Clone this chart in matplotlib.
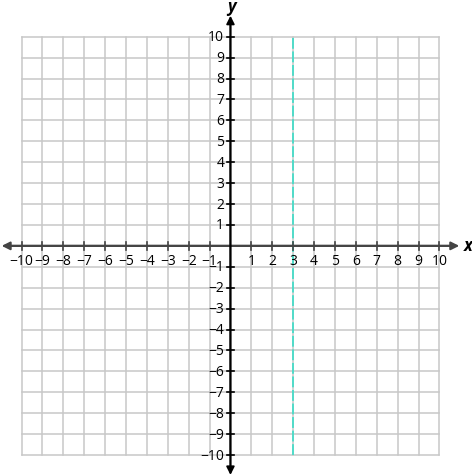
import matplotlib

matplotlib.use("Agg")
import matplotlib.pyplot as plt
import numpy as np

# grid / ticks
x_ticks = np.arange(-10, 11)
y_ticks = np.arange(-10, 11)
x_labels = [str(v).replace("-", "\u2212") for v in x_ticks if v != 0]
y_labels = [str(v).replace("-", "\u2212") for v in y_ticks if v != 0]

# vertical dashed line x = 3
line_x = 3
line_y = [-10, 10]

plt.rcParams["font.family"] = ["Open Sans", "DejaVu Sans"]

fig = plt.figure(figsize=(4.72, 4.77), dpi=100)
ax = fig.add_axes([0, 0, 1, 1])
ax.set_xlim(-11.03, 11.56)
ax.set_ylim(-11.0, 11.80)
ax.axis("off")

grid_c = "#c8c8c8"
for v in x_ticks:
    ax.plot([v, v], [-10, 10], color=grid_c, lw=1.1, zorder=1)
for v in y_ticks:
    ax.plot([-10, 10], [v, v], color=grid_c, lw=1.1, zorder=1)

ax.plot([line_x, line_x], line_y, color="#46dcc8", lw=1.3, ls=(0, (6, 1.5)), zorder=3)

# axes with arrows
ax.annotate("", xy=(-10.95, 0), xytext=(10.8, 0),
            arrowprops=dict(arrowstyle="-|>", color="#444444", lw=1.5,
                            mutation_scale=12, shrinkA=0, shrinkB=0), zorder=4)
ax.annotate("", xy=(10.95, 0), xytext=(-10.8, 0),
            arrowprops=dict(arrowstyle="-|>", color="#444444", lw=1.5,
                            mutation_scale=12, shrinkA=0, shrinkB=0), zorder=4)
ax.annotate("", xy=(0, 11.0), xytext=(0, -10.8),
            arrowprops=dict(arrowstyle="-|>", color="black", lw=1.3,
                            mutation_scale=12, shrinkA=0, shrinkB=0), zorder=5)
ax.annotate("", xy=(0, -10.95), xytext=(0, 10.8),
            arrowprops=dict(arrowstyle="-|>", color="black", lw=1.3,
                            mutation_scale=12, shrinkA=0, shrinkB=0), zorder=5)

# tick marks
tk = 0.18
for v in x_ticks:
    if v != 0:
        ax.plot([v, v], [-tk, tk], color="#444444", lw=1.2, zorder=4)
for v in y_ticks:
    if v != 0:
        ax.plot([-tk, tk], [v, v], color="black", lw=1.2, zorder=5)

# tick labels
xs = [v for v in x_ticks if v != 0]
for v, lab in zip(xs, x_labels):
    ax.text(v, -0.35, lab, ha="center", va="top", fontsize=10, zorder=6)
ys = [v for v in y_ticks if v != 0]
for v, lab in zip(ys, y_labels):
    ax.text(-0.3, v, lab, ha="right", va="center", fontsize=10, zorder=6)

ax.text(11.15, 0.05, "x", ha="left", va="center", fontsize=12,
        fontweight="bold", fontstyle="italic")
ax.text(0.05, 11.45, "y", ha="center", va="center", fontsize=12,
        fontweight="bold", fontstyle="italic")

fig.savefig("out.png", dpi=100)
